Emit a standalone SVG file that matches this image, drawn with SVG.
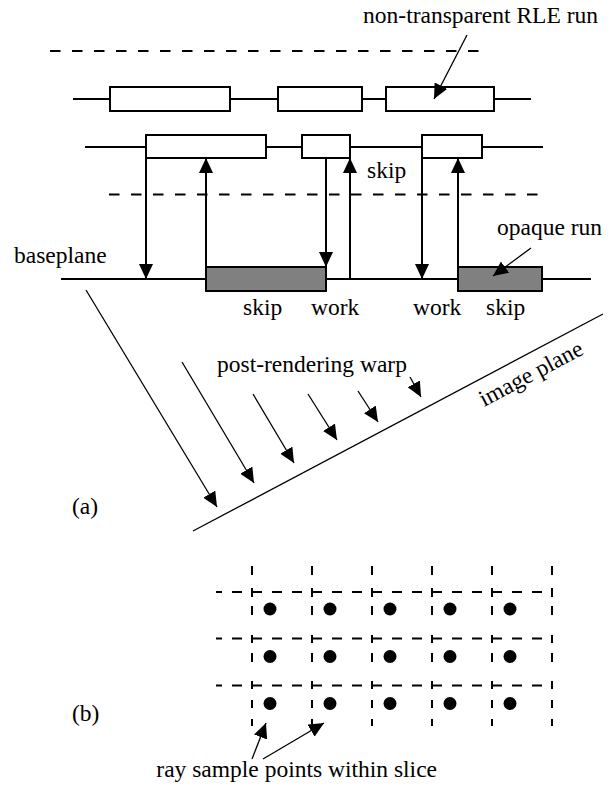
<svg xmlns="http://www.w3.org/2000/svg" width="616" height="795" viewBox="0 0 616 795">
  <style>
    .lbl { font-family: "Liberation Serif", "Times New Roman", serif; font-size: 23.5px; fill: #000; }
    .thick { stroke: #000; stroke-width: 2; fill: none; }
    .thin { stroke: #000; stroke-width: 1.3; fill: none; }
    .run { stroke: #000; stroke-width: 2; fill: #fff; }
    .opaque { stroke: #000; stroke-width: 2; fill: #808080; }
    .dash { stroke: #000; stroke-width: 2; fill: none; stroke-dasharray: 10.5 11.5; }
    .gdash { stroke: #000; stroke-width: 2; fill: none; stroke-dasharray: 10 10; }
    .dot { fill: #000; }
  </style>
  <defs>
    <marker id="head" viewBox="0 0 15 14" refX="15" refY="7" markerWidth="15" markerHeight="14" markerUnits="userSpaceOnUse" orient="auto">
      <path d="M0,0 L15,7 L0,14 Z" fill="#000"/>
    </marker>
    <path id="vcol" class="thick" d="M0,566 V575 M0,588 V597 M0,606 V615 M0,635 V643 M0,653 V662 M0,681 V689 M0,700 V708 M0,719 V726"/>
  </defs>

  <!-- slice boundaries -->
  <g id="slice-boundaries">
    <line class="dash" x1="50" y1="51" x2="483" y2="51"/>
    <line class="dash" x1="109" y1="194.5" x2="548" y2="194.5"/>
  </g>

  <!-- scanline 1 with RLE runs -->
  <g id="scanline-1">
    <line class="thick" x1="73" y1="99" x2="531" y2="99"/>
    <rect class="run" x="110" y="87" width="120" height="24"/>
    <rect class="run" x="278" y="87" width="84" height="24"/>
    <rect class="run" x="386" y="87" width="108" height="24"/>
  </g>

  <!-- scanline 2 with RLE runs -->
  <g id="scanline-2">
    <line class="thick" x1="85" y1="147" x2="543" y2="147"/>
    <rect class="run" x="146" y="135" width="120" height="23"/>
    <rect class="run" x="302" y="135" width="48" height="23"/>
    <rect class="run" x="422" y="135" width="60" height="23"/>
  </g>

  <!-- baseplane with opaque runs -->
  <g id="baseplane">
    <line class="thick" x1="61" y1="279" x2="591" y2="279"/>
    <rect class="opaque" x="206" y="267" width="120" height="24"/>
    <rect class="opaque" x="458" y="267" width="84" height="24"/>
    <text class="lbl" x="14" y="263">baseplane</text>
  </g>

  <!-- image plane -->
  <g id="image-plane">
    <line class="thin" x1="193" y1="531" x2="603" y2="314"/>
    <text class="lbl" transform="translate(484 407) rotate(-27.9)">image plane</text>
  </g>

  <!-- connectors -->
  <g id="connectors">
    <line class="thick" x1="146" y1="158" x2="146" y2="279" marker-end="url(#head)"/>
    <line class="thick" x1="206" y1="267" x2="206" y2="158" marker-end="url(#head)"/>
    <line class="thick" x1="326" y1="158" x2="326" y2="267" marker-end="url(#head)"/>
    <line class="thick" x1="350" y1="279" x2="350" y2="158" marker-end="url(#head)"/>
    <line class="thick" x1="422" y1="158" x2="422" y2="279" marker-end="url(#head)"/>
    <line class="thick" x1="458" y1="267" x2="458" y2="158" marker-end="url(#head)"/>

    <line class="thin" x1="467" y1="35" x2="434" y2="99" marker-end="url(#head)"/>
    <line class="thin" x1="531" y1="248" x2="493" y2="276" marker-end="url(#head)"/>

    <line class="thin" x1="86" y1="290" x2="217" y2="507" marker-end="url(#head)"/>
    <line class="thin" x1="182" y1="362" x2="254" y2="483" marker-end="url(#head)"/>
    <line class="thin" x1="253" y1="394" x2="294" y2="463" marker-end="url(#head)"/>
    <line class="thin" x1="308" y1="394" x2="337" y2="440" marker-end="url(#head)"/>
    <line class="thin" x1="358" y1="391" x2="378" y2="422" marker-end="url(#head)"/>
    <line class="thin" x1="410" y1="377" x2="421" y2="397" marker-end="url(#head)"/>

    <line class="thin" x1="252" y1="759" x2="266" y2="723" marker-end="url(#head)"/>
    <line class="thin" x1="263" y1="759" x2="324" y2="723" marker-end="url(#head)"/>
  </g>

  <!-- labels -->
  <g id="labels">
    <text class="lbl" x="598" y="23" text-anchor="end">non-transparent RLE run</text>
    <text class="lbl" x="367" y="178">skip</text>
    <text class="lbl" x="497" y="235">opaque run</text>
    <text class="lbl" x="243" y="315">skip</text>
    <text class="lbl" x="311" y="315">work</text>
    <text class="lbl" x="413" y="315">work</text>
    <text class="lbl" x="486" y="315">skip</text>
    <text class="lbl" x="217" y="372">post-rendering warp</text>
    <text class="lbl" x="72" y="514">(a)</text>
    <text class="lbl" x="72" y="721">(b)</text>
    <text class="lbl" x="437" y="777" text-anchor="end">ray sample points within slice</text>
  </g>

  <!-- sample grid within a slice -->
  <g id="sample-grid">
    <line class="gdash" x1="216" y1="592" x2="552" y2="592" stroke-dashoffset="4"/>
    <line class="gdash" x1="216" y1="638.5" x2="552" y2="638.5" stroke-dashoffset="4"/>
    <line class="gdash" x1="216" y1="685.5" x2="552" y2="685.5" stroke-dashoffset="4"/>
    <use href="#vcol" x="252"/>
    <use href="#vcol" x="312"/>
    <use href="#vcol" x="372"/>
    <use href="#vcol" x="432"/>
    <use href="#vcol" x="492"/>
    <use href="#vcol" x="552"/>
    <g class="dot">
      <circle cx="270" cy="609" r="6.5"/><circle cx="330" cy="609" r="6.5"/><circle cx="390" cy="609" r="6.5"/><circle cx="450" cy="609" r="6.5"/><circle cx="510" cy="609" r="6.5"/>
      <circle cx="270" cy="656.5" r="6.5"/><circle cx="330" cy="656.5" r="6.5"/><circle cx="390" cy="656.5" r="6.5"/><circle cx="450" cy="656.5" r="6.5"/><circle cx="510" cy="656.5" r="6.5"/>
      <circle cx="270" cy="703.5" r="6.5"/><circle cx="330" cy="703.5" r="6.5"/><circle cx="390" cy="703.5" r="6.5"/><circle cx="450" cy="703.5" r="6.5"/><circle cx="510" cy="703.5" r="6.5"/>
    </g>
  </g>
</svg>
